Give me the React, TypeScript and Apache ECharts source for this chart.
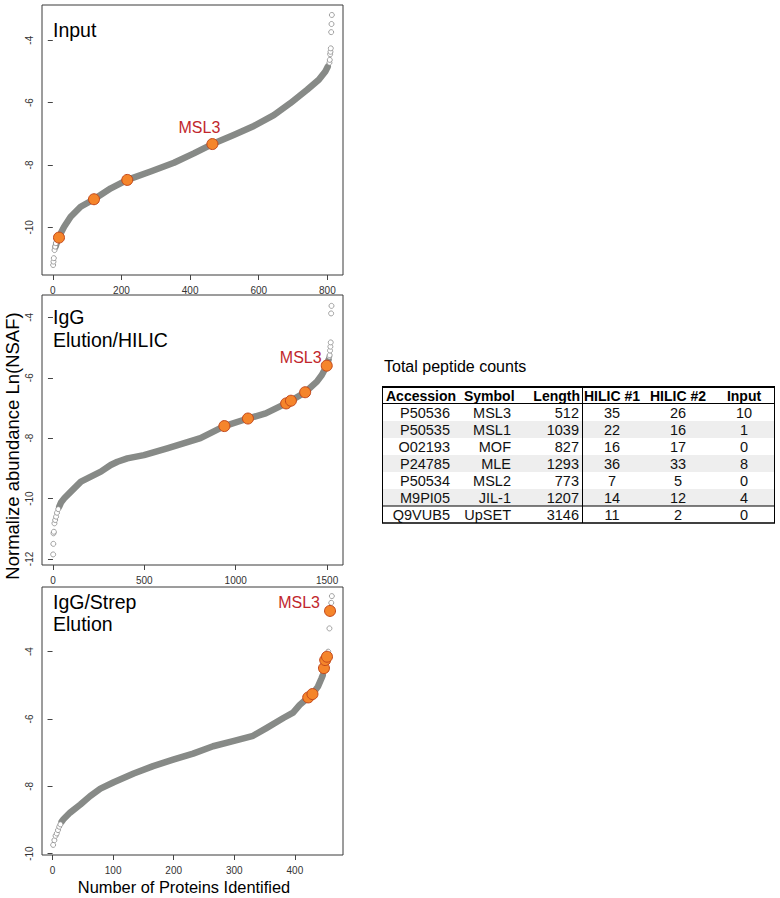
import React, { useEffect, useRef } from "react";
import * as echarts from "echarts";

const FONT = '"Liberation Sans", Arial, Helvetica, sans-serif';

// ---------- Panel 1: Input ----------
const inputBand: number[][] = [[8,-10.62],[13,-10.45],[18,-10.33],[25,-10.15],[33,-9.98],[52,-9.66],[81,-9.34],[120,-9.10],[169,-8.75],[217,-8.48],[285,-8.21],[353,-7.93],[411,-7.63],[465,-7.33],[527,-7.04],[586,-6.75],[644,-6.40],[692,-6.02],[741,-5.59],[775,-5.27],[794,-5.00],[801,-4.85]];
const inputTails: number[][] = [[1,-11.21],[2,-11.10],[3,-10.99],[5,-10.73],[7,-10.62],[9,-10.51],[806,-4.72],[807,-4.63],[808,-4.45],[809,-4.37],[810,-4.26],[811,-3.74],[812,-3.48],[813,-3.19]];
const inputMarked: number[][] = [[18,-10.33],[120,-9.10],[217,-8.48],[465,-7.33]];

// ---------- Panel 2: IgG Elution/HILIC ----------
const hilicBand: number[][] = [[34,-10.27],[45,-10.12],[62,-9.99],[98,-9.77],[153,-9.44],[262,-9.11],[316,-8.89],[353,-8.78],[407,-8.67],[498,-8.56],[625,-8.34],[807,-8.00],[938,-7.60],[1067,-7.35],[1164,-7.18],[1276,-6.85],[1302,-6.76],[1380,-6.48],[1444,-6.13],[1471,-5.91],[1498,-5.60],[1508,-5.40]];
const hilicTails: number[][] = [[1,-11.85],[2,-11.50],[3,-11.15],[5,-11.10],[8,-10.82],[12,-10.71],[17,-10.60],[22,-10.47],[29,-10.35],[1512,-5.30],[1514,-5.25],[1516,-5.10],[1518,-4.97],[1520,-4.83],[1522,-3.87],[1524,-3.62]];
const hilicMarked: number[][] = [[938,-7.60],[1067,-7.35],[1276,-6.85],[1302,-6.76],[1380,-6.48],[1498,-5.60]];

// ---------- Panel 3: IgG/Strep Elution ----------
const strepBand: number[][] = [[15,-9.05],[18,-8.98],[29,-8.78],[46,-8.54],[62,-8.29],[79,-8.07],[101,-7.88],[134,-7.62],[166,-7.40],[199,-7.21],[232,-7.03],[265,-6.81],[298,-6.66],[331,-6.50],[353,-6.27],[381,-5.97],[397,-5.81],[408,-5.58],[422,-5.36],[429,-5.26],[438,-5.04],[444,-4.79],[446,-4.70]];
const strepTails: number[][] = [[1,-9.74],[3,-9.60],[5,-9.47],[7,-9.40],[9,-9.30],[11,-9.20],[13,-9.13],[455,-4.00],[457,-3.31],[460,-2.55],[461,-2.35]];
const strepMarked: number[][] = [[422,-5.36],[429,-5.26],[448,-4.49],[450,-4.25],[453,-4.15],[458,-2.79]];

// ---------- Axis ticks ----------
const inputXTicks = [0, 200, 400, 600, 800];
const inputYTicks = [-10, -8, -6, -4];
const hilicXTicks = [0, 500, 1000, 1500];
const hilicYTicks = [-12, -10, -8, -6, -4];
const strepXTicks = [0, 100, 200, 300, 400];
const strepYTicks = [-10, -8, -6, -4];

// ---------- Table ----------
const tableTitle = "Total peptide counts";
const tableHeaders = ["Accession", "Symbol", "Length", "HILIC #1", "HILIC #2", "Input"];
const accessions = ["P50536", "P50535", "O02193", "P24785", "P50534", "M9PI05", "Q9VUB5"];
const symbols = ["MSL3", "MSL1", "MOF", "MLE", "MSL2", "JIL-1", "UpSET"];
const lengths = [512, 1039, 827, 1293, 773, 1207, 3146];
const hilic1 = [35, 22, 16, 36, 7, 14, 11];
const hilic2 = [26, 16, 17, 33, 5, 12, 2];
const inputCounts = [10, 1, 0, 8, 0, 4, 0];

const panels = [
  { band: inputBand, tails: inputTails, marked: inputMarked, msl3: 3, labelOffset: [-13, -17],
    grid: { left: 42, top: 5, width: 301, height: 270 },
    xMin: -31.5, xMax: 845.5, xTicks: inputXTicks, yMin: -11.53, yMax: -2.87, yTicks: inputYTicks,
    title: ["Input"], titleY: [30] },
  { band: hilicBand, tails: hilicTails, marked: hilicMarked, msl3: 5, labelOffset: [-26, -8],
    grid: { left: 42, top: 295, width: 301, height: 270 },
    xMin: -60, xMax: 1587, xTicks: hilicXTicks, yMin: -12.2, yMax: -3.26, yTicks: hilicYTicks,
    title: ["IgG", "Elution/HILIC"], titleY: [317, 340] },
  { band: strepBand, tails: strepTails, marked: strepMarked, msl3: 5, labelOffset: [-31, -8],
    grid: { left: 42, top: 587, width: 301, height: 268 },
    xMin: -17.4, xMax: 479.4, xTicks: strepXTicks, yMin: -10.04, yMax: -2.08, yTicks: strepYTicks,
    title: ["IgG/Strep", "Elution"], titleY: [602, 624] },
];

const plain = (v: number) => String(v);

function buildOption() {
  const grids: any[] = [];
  const xAxes: any[] = [];
  const yAxes: any[] = [];
  const series: any[] = [];
  const graphics: any[] = [];

  panels.forEach((p, i) => {
    grids.push({ ...p.grid, show: true, borderColor: "#3a3a3a", borderWidth: 1, backgroundColor: "#fff" });
    xAxes.push({
      gridIndex: i, type: "value", min: p.xMin, max: p.xMax,
      axisLine: { show: false },
      axisTick: { show: true, inside: false, length: 5, lineStyle: { color: "#444", width: 1 }, customValues: p.xTicks },
      axisLabel: { show: true, customValues: p.xTicks, formatter: plain, fontSize: 10, color: "#333", fontFamily: FONT, margin: 10 },
      splitLine: { show: false },
    });
    yAxes.push({
      gridIndex: i, type: "value", min: p.yMin, max: p.yMax,
      axisLine: { show: false },
      axisTick: { show: true, inside: false, length: 5, lineStyle: { color: "#444", width: 1 }, customValues: p.yTicks },
      axisLabel: { show: true, customValues: p.yTicks, formatter: plain, fontSize: 10, color: "#333", fontFamily: FONT, margin: 8, rotate: 90 },
      splitLine: { show: false },
    });
    series.push({
      type: "line", xAxisIndex: i, yAxisIndex: i, data: p.band, symbol: "none", showSymbol: false,
      lineStyle: { width: 6.5, color: "#878a87", cap: "round", join: "round", opacity: 1 }, silent: true, z: 2,
    });
    series.push({
      type: "scatter", xAxisIndex: i, yAxisIndex: i, data: p.tails, symbol: "circle", symbolSize: 5,
      itemStyle: { color: "#ffffff", borderColor: "#8a8a8a", borderWidth: 0.8, opacity: 1 }, silent: true, z: 3,
    });
    series.push({
      type: "scatter", xAxisIndex: i, yAxisIndex: i, symbol: "circle", symbolSize: 11,
      itemStyle: { color: "#f5852b", borderColor: "#c2471b", borderWidth: 1, opacity: 1 }, silent: true, z: 4,
      data: p.marked.map((v, k) =>
        k === p.msl3
          ? { value: v, label: { show: true, formatter: "MSL3", position: "inside", offset: p.labelOffset,
              color: "#c1272d", opacity: 1, textBorderWidth: 0, fontSize: 16, fontFamily: FONT, align: "center", verticalAlign: "middle" } }
          : { value: v }
      ),
    });
    p.title.forEach((t, k) => {
      graphics.push({ type: "text", x: 53, y: p.titleY[k], z: 10,
        style: { text: t, fill: "#000", font: `19.5px ${FONT}`, textAlign: "left", textVerticalAlign: "middle" } });
    });
  });

  // axis titles
  graphics.push({ type: "text", x: 184, y: 887, z: 10,
    style: { text: "Number of Proteins Identified", fill: "#000", font: `16.4px ${FONT}`, textAlign: "center", textVerticalAlign: "middle" } });
  graphics.push({ type: "text", x: 12, y: 446, rotation: Math.PI / 2, z: 10,
    style: { text: "Normalize abundance Ln(NSAF)", fill: "#000", font: `18.5px ${FONT}`, textAlign: "center", textVerticalAlign: "middle" } });

  // table
  const tLeft = 382, tRight = 775, sepX = 582, headTop = 387, rowH = 17;
  const tableFont = `14.5px ${FONT}`;
  const boldFont = `bold 14px ${FONT}`;
  graphics.push({ type: "text", x: 384, y: 366, style: { text: tableTitle, fill: "#000", font: `16px ${FONT}`, textAlign: "left", textVerticalAlign: "middle" } });
  accessions.forEach((_, r) => {
    if (r % 2 === 1) {
      graphics.push({ type: "rect", shape: { x: tLeft, y: headTop + rowH * (r + 1), width: tRight - tLeft, height: rowH },
        style: { fill: "#eeeeee" }, z: 1 });
    }
  });
  const headX = [386, 464, 580, 612, 678, 744];
  const headAlign = ["left", "left", "right", "center", "center", "center"];
  tableHeaders.forEach((h, c) => {
    graphics.push({ type: "text", x: headX[c], y: headTop + rowH / 2 + 0.5, z: 5,
      style: { text: h, fill: "#000", font: boldFont, textAlign: headAlign[c], textVerticalAlign: "middle" } });
  });
  const colX = [450, 511, 579, 612, 678, 744];
  const colAlign = ["right", "right", "right", "center", "center", "center"];
  accessions.forEach((acc, r) => {
    const vals = [acc, symbols[r], String(lengths[r]), String(hilic1[r]), String(hilic2[r]), String(inputCounts[r])];
    const cy = headTop + rowH * (r + 1) + rowH / 2 + 0.5;
    vals.forEach((v, c) => {
      graphics.push({ type: "text", x: colX[c], y: cy, z: 5,
        style: { text: v, fill: "#111", font: tableFont, textAlign: colAlign[c], textVerticalAlign: "middle" } });
    });
  });
  const tBottom = headTop + rowH * (accessions.length + 1);
  const lineSty = { stroke: "#000", lineWidth: 1 };
  graphics.push({ type: "line", z: 6, shape: { x1: tLeft, y1: headTop, x2: tRight, y2: headTop }, style: { stroke: "#000", lineWidth: 2 } });
  graphics.push({ type: "line", z: 6, shape: { x1: tLeft, y1: headTop + rowH - 0.5, x2: tRight, y2: headTop + rowH - 0.5 }, style: lineSty });
  graphics.push({ type: "line", z: 6, shape: { x1: tLeft, y1: tBottom - rowH, x2: tRight, y2: tBottom - rowH }, style: lineSty });
  graphics.push({ type: "line", z: 6, shape: { x1: tLeft, y1: tBottom, x2: tRight, y2: tBottom }, style: { stroke: "#000", lineWidth: 1.5 } });
  graphics.push({ type: "line", z: 6, shape: { x1: tLeft + 0.5, y1: headTop, x2: tLeft + 0.5, y2: tBottom }, style: lineSty });
  graphics.push({ type: "line", z: 6, shape: { x1: tRight - 0.5, y1: headTop, x2: tRight - 0.5, y2: tBottom }, style: lineSty });
  graphics.push({ type: "line", z: 6, shape: { x1: sepX + 0.5, y1: headTop, x2: sepX + 0.5, y2: tBottom }, style: lineSty });

  return {
    animation: false,
    backgroundColor: "#ffffff",
    textStyle: { fontFamily: FONT },
    grid: grids,
    xAxis: xAxes,
    yAxis: yAxes,
    series,
    graphic: { elements: graphics },
  };
}

export default function App() {
  const ref = useRef<HTMLDivElement>(null);
  useEffect(() => {
    if (!ref.current) return;
    const chart = echarts.init(ref.current, undefined, { renderer: "svg" });
    chart.setOption(buildOption() as any);
    return () => chart.dispose();
  }, []);
  return <div ref={ref} style={{ position: "absolute", left: 0, top: 0, width: 780, height: 898 }} />;
}
